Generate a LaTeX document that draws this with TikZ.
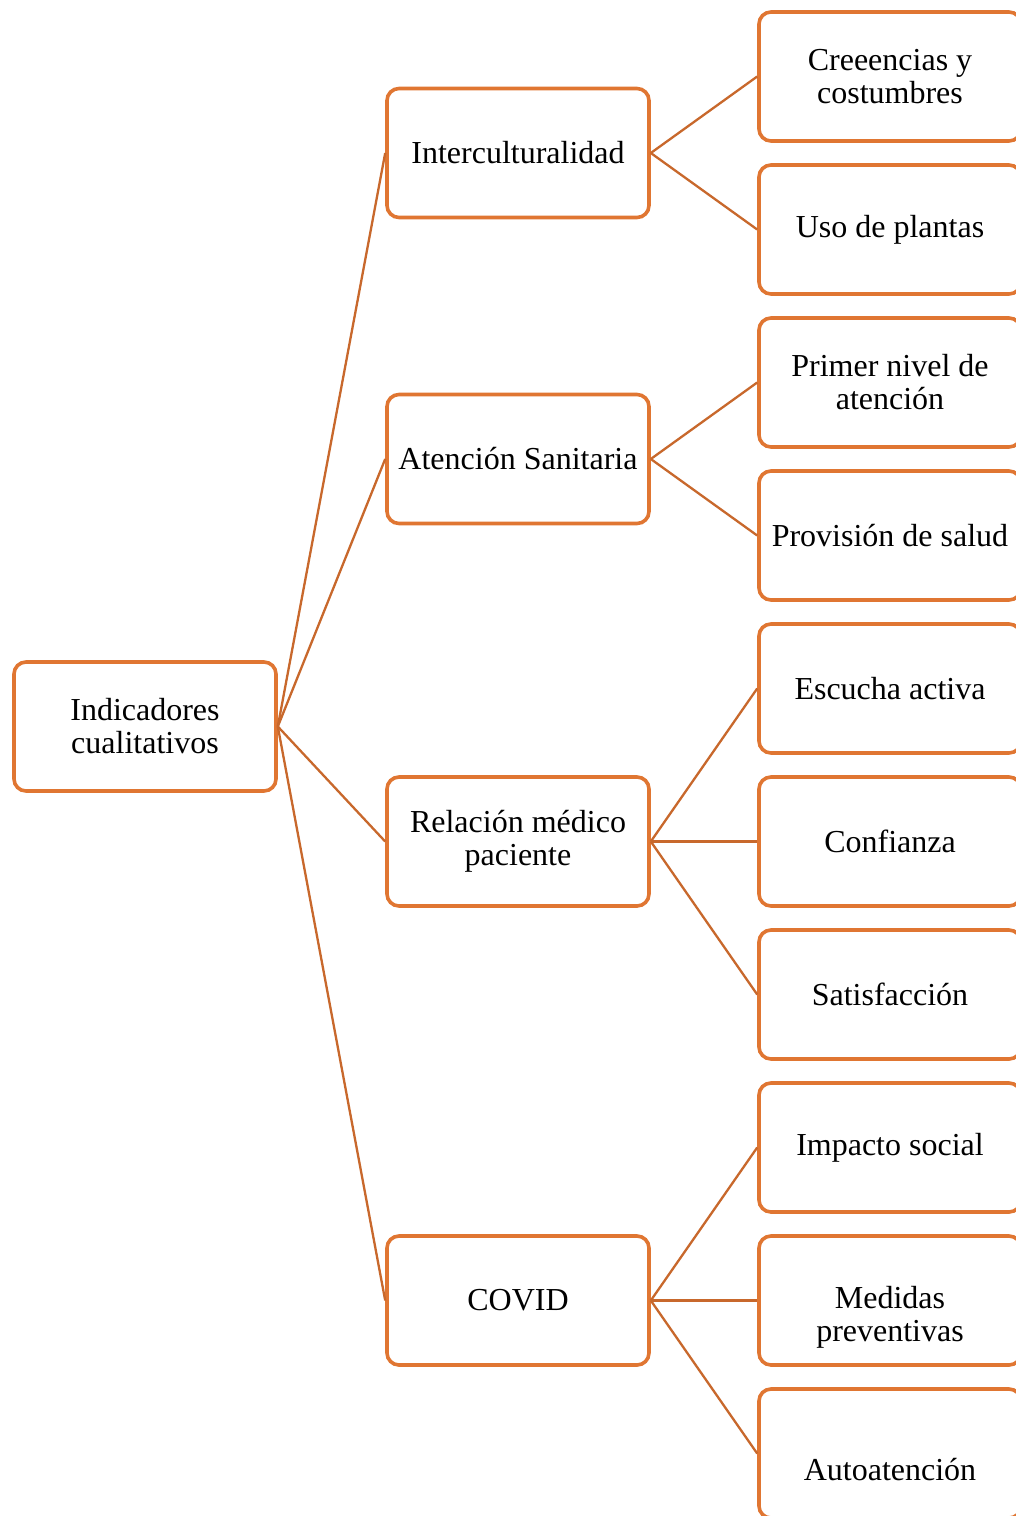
\documentclass[tikz,border=0pt]{standalone}
\usepackage{fontspec}
\setmainfont{Liberation Serif}
\definecolor{boxorange}{HTML}{E07632}
\definecolor{lineorange}{HTML}{C8682C}
\tikzset{
  box/.style={draw=boxorange, line width=3.6pt, rounded corners=12pt,
    minimum width=262pt, minimum height=129pt, inner sep=0pt,
    align=center, font=\fontsize{32}{33}\selectfont, fill=white},
  plain/.style={align=center, font=\fontsize{32}{33}\selectfont, inner sep=0pt},
  link/.style={draw=lineorange, line width=2.3pt}
}
\begin{document}
\begin{tikzpicture}[x=1pt,y=-1pt]
\useasboundingbox (0,0) rectangle (1016,1516);
\clip (0,0) rectangle (1016,1516);
\fill[white] (0,0) rectangle (1016,1516);

% root
\node[box] (root) at (145,726.5) {Indicadores\\cualitativos};

% second level
\node[box] (inter) at (518,153) {Interculturalidad};
\node[box] (aten) at (518,459) {Atención Sanitaria};
\node[box] (rel) at (518,841.5) {Relación médico\\paciente};
\node[box] (covid) at (518,1300.5) {COVID};

% third level
\node[box] (cree) at (890,76.5) {Creeencias y\\costumbres};
\node[box] (uso) at (890,229.5) {Uso de plantas};
\node[box] (prim) at (890,382.5) {Primer nivel de\\atención};
\node[box] (prov) at (890,535.5) {Provisión de salud};
\node[box] (escu) at (890,688.5) {Escucha activa};
\node[box] (conf) at (890,841.5) {Confianza};
\node[box] (sati) at (890,994.5) {Satisfacción};
\node[box] (impa) at (890,1147.5) {Impacto social};
\node[box] (medi) at (890,1300.5) {};
\node[plain] (meditx) at (890,1317.5) {Medidas\\preventivas};
\node[box] (auto) at (890,1453.5) {};
\node[plain] (autotx) at (890,1470) {Autoatención};

% connectors
\draw[link] (root.east) -- (inter.west);
\draw[link] (root.east) -- (aten.west);
\draw[link] (root.east) -- (rel.west);
\draw[link] (root.east) -- (covid.west);
\draw[link] (inter.east) -- (cree.west);
\draw[link] (inter.east) -- (uso.west);
\draw[link] (aten.east) -- (prim.west);
\draw[link] (aten.east) -- (prov.west);
\draw[link] (rel.east) -- (escu.west);
\draw[link] (rel.east) -- (conf.west);
\draw[link] (rel.east) -- (sati.west);
\draw[link] (covid.east) -- (impa.west);
\draw[link] (covid.east) -- (medi.west);
\draw[link] (covid.east) -- (auto.west);
\end{tikzpicture}
\end{document}
